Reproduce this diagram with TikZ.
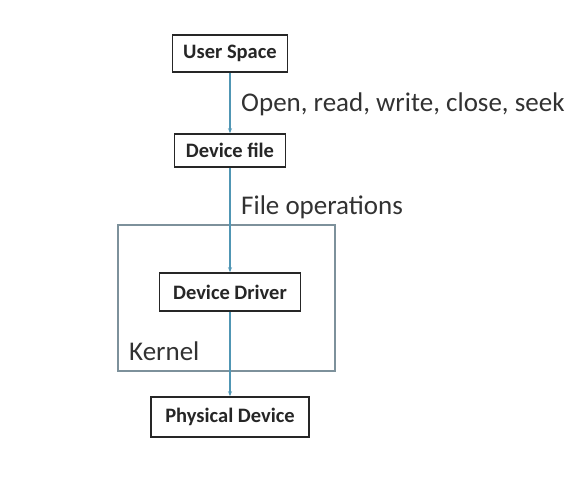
\documentclass[tikz,border=0pt]{standalone}
\usepackage{fontspec}
\setmainfont{Carlito}
\usetikzlibrary{arrows.meta}
\definecolor{arrowc}{RGB}{80,150,180}
\definecolor{kernc}{RGB}{125,145,155}
\definecolor{txtc}{RGB}{50,50,50}
\begin{document}
\begin{tikzpicture}[x=1pt,y=-1pt,
  boxn/.style={draw=black!85,line width=1.6pt,fill=white,inner sep=0pt,
    font=\fontsize{20.5}{22}\selectfont\bfseries,text=black!85},
  lbl/.style={anchor=west,inner sep=0pt,font=\fontsize{27}{30}\selectfont,text=txtc},
  conn/.style={draw=arrowc,line width=1.3pt,-{Stealth[length=5pt,width=4pt]}}]
\useasboundingbox (0,0) rectangle (578,488);
\node[draw=kernc,line width=1.3pt,minimum width=217pt,minimum height=146pt,inner sep=0pt] (kern) at (226.5,298) {};
\node[boxn,minimum width=115pt,minimum height=37pt] (us) at (230,53.5) {User Space};
\node[boxn,minimum width=111pt,minimum height=33pt] (df) at (230,150.5) {Device file};
\node[boxn,minimum width=141pt,minimum height=38pt] (dd) at (230,292) {Device Driver};
\node[boxn,minimum width=158pt,minimum height=40pt] (pd) at (230,417) {Physical Device};
\node[lbl] (l1) at (241,104) {Open, read, write, close, seek};
\node[lbl] (l2) at (241,207) {File operations};
\node[lbl] (l3) at (129,351) {Kernel};
\draw[conn] (us) -- (df);
\draw[conn] (df) -- (dd);
\draw[conn] (dd) -- (pd);
\end{tikzpicture}
\end{document}
